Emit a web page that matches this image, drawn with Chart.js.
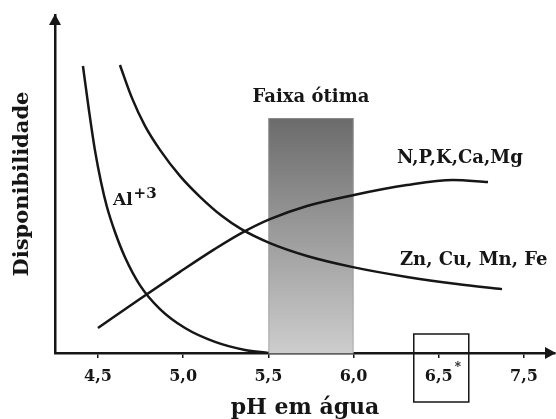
<!DOCTYPE html>
<html>
<head>
<meta charset="utf-8">
<script src="https://cdn.jsdelivr.net/npm/chart.js@4"></script>
<style>
  html, body { margin: 0; padding: 0; background: #fff; }
  #chart { display: block; }
</style>
</head>
<body>
<canvas id="chart" width="556" height="419"></canvas>
<script>
// ---- Data ----
const alPH   = [4.412, 4.447, 4.482, 4.518, 4.553, 4.600, 4.658, 4.746, 4.864, 5.011, 5.187, 5.363, 5.50];
const alVal  = [84.9, 71.9, 60.1, 50.6, 43.2, 35.8, 28.4, 20.1, 13.0, 7.4, 3.3, 0.9, 0];

const znPH   = [4.629, 4.700, 4.776, 4.864, 4.981, 5.099, 5.228, 5.339, 5.509, 5.727, 5.996, 6.313, 6.607, 6.871];
const znVal  = [85.2, 75.4, 67.2, 60.1, 52.4, 46.2, 40.5, 36.7, 32.5, 28.7, 25.4, 22.5, 20.4, 18.9];

const npkPH  = [4.500, 4.746, 4.981, 5.187, 5.339, 5.509, 5.727, 5.996, 6.313, 6.583, 6.789];
const npkVal = [7.4, 16.0, 24.0, 30.8, 35.4, 39.6, 43.5, 46.7, 49.7, 51.2, 50.6];

const faixaPH  = [5.5, 6.0];
const faixaTop = 69.5;

const tickValues = [4.5, 5.0, 5.5, 6.0, 6.5, 7.0];
const tickLabels = ["4,5", "5,0", "5,5", "6,0", "6,5", "7,5"];

const toPoints = (xs, ys) => xs.map((x, i) => ({ x, y: ys[i] }));

const SERIF = "'DejaVu Serif', 'Liberation Serif', serif";
const INK   = "#161616";

// ---- Drawing extras (band, arrows, labels) ----
const extras = {
  id: "extras",
  beforeDatasetsDraw(chart) {
    const { ctx, scales: { x, y } } = chart;
    const x0 = x.getPixelForValue(faixaPH[0]);
    const x1 = x.getPixelForValue(faixaPH[1]);
    const yt = y.getPixelForValue(faixaTop);
    const yb = y.getPixelForValue(0);
    const g = ctx.createLinearGradient(0, yt, 0, yb);
    g.addColorStop(0, "#6b6b6b");
    g.addColorStop(1, "#cdcdcd");
    ctx.save();
    ctx.fillStyle = g;
    ctx.fillRect(x0, yt, x1 - x0, yb - yt);
    ctx.strokeStyle = "rgba(150,150,150,0.6)";
    ctx.lineWidth = 1;
    ctx.strokeRect(x0 + 0.5, yt + 0.5, x1 - x0 - 1, yb - yt);
    ctx.restore();
  },
  afterDraw(chart) {
    const { ctx, chartArea: a, scales: { x, y } } = chart;
    ctx.save();
    ctx.fillStyle = INK;

    // arrow heads
    ctx.beginPath();
    ctx.moveTo(a.left, a.top - 1);
    ctx.lineTo(a.left - 6, a.top + 10);
    ctx.lineTo(a.left + 6, a.top + 10);
    ctx.closePath();
    ctx.fill();
    ctx.beginPath();
    ctx.moveTo(a.right + 1, a.bottom);
    ctx.lineTo(a.right - 10, a.bottom - 6);
    ctx.lineTo(a.right - 10, a.bottom + 6);
    ctx.closePath();
    ctx.fill();

    // labels
    ctx.textBaseline = "middle";
    ctx.font = "bold 18px " + SERIF;
    ctx.textAlign = "center";
    ctx.fillText("Faixa ótima", x.getPixelForValue(5.75), y.getPixelForValue(75.7));

    ctx.textAlign = "left";
    ctx.font = "bold 18px " + SERIF;
    ctx.fillText("N,P,K,Ca,Mg", x.getPixelForValue(6.255), y.getPixelForValue(57.7));
    ctx.fillText("Zn, Cu, Mn, Fe", x.getPixelForValue(6.272), y.getPixelForValue(27.5));

    const alX = x.getPixelForValue(4.588);
    const alY = y.getPixelForValue(45.0);
    ctx.font = "bold 17px " + SERIF;
    ctx.fillText("Al", alX, alY);
    const w = ctx.measureText("Al").width;
    ctx.font = "bold 15px " + SERIF;
    ctx.fillText("+3", alX + w + 1, alY - 7);

    // asterisk and box around 6,5
    const t = x.getPixelForValue(6.5);
    ctx.font = "bold 12px " + SERIF;
    ctx.fillText("*", t + 16, a.bottom + 15);
    ctx.strokeStyle = INK;
    ctx.lineWidth = 1.5;
    ctx.strokeRect(t - 25, a.bottom - 19, 55, 68);
    ctx.restore();
  }
};

new Chart(document.getElementById("chart"), {
  type: "line",
  data: {
    datasets: [
      { label: "Al+3", data: toPoints(alPH, alVal) },
      { label: "Zn, Cu, Mn, Fe", data: toPoints(znPH, znVal) },
      { label: "N,P,K,Ca,Mg", data: toPoints(npkPH, npkVal) }
    ]
  },
  options: {
    responsive: false,
    animation: false,
    layout: { padding: { top: 15, right: 1, left: 0, bottom: 0 } },
    elements: {
      line: { borderColor: INK, borderWidth: 2.5, cubicInterpolationMode: "monotone", fill: false },
      point: { radius: 0 }
    },
    plugins: {
      legend: { display: false },
      tooltip: { enabled: false }
    },
    scales: {
      x: {
        type: "linear",
        min: 4.248,
        max: 7.182,
        afterBuildTicks: s => { s.ticks = tickValues.map(v => ({ value: v })); },
        afterFit: s => { s.height = 66; },
        ticks: {
          callback: v => tickLabels[tickValues.indexOf(v)],
          color: INK,
          font: { family: SERIF, size: 16, weight: "bold" },
          padding: 9,
          maxRotation: 0,
          autoSkip: false
        },
        grid: { drawOnChartArea: false, color: INK, tickLength: 5, lineWidth: 1.5 },
        border: { color: INK, width: 2.5 },
        title: {
          display: true,
          text: "pH em água",
          color: INK,
          font: { family: SERIF, size: 22, weight: "bold", lineHeight: 1 },
          padding: { top: 0, bottom: 0 }
        }
      },
      y: {
        min: 0,
        max: 100,
        afterFit: s => { s.width = 55; },
        ticks: { display: false },
        grid: { drawOnChartArea: false, drawTicks: false },
        border: { color: INK, width: 2.5 },
        title: {
          display: true,
          text: "Disponibilidade",
          color: INK,
          font: { family: SERIF, size: 21, weight: "bold" },
          padding: { top: 10, bottom: 0 }
        }
      }
    }
  },
  plugins: [extras]
});
</script>
</body>
</html>
